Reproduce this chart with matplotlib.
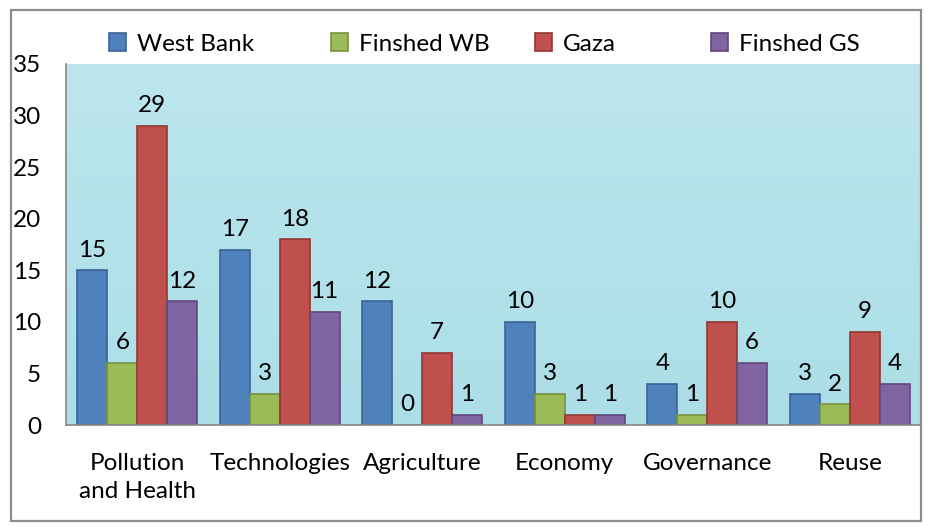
import matplotlib
matplotlib.use("Agg")
import matplotlib.pyplot as plt
import numpy as np
from matplotlib.patches import Rectangle, Patch
from matplotlib.colors import LinearSegmentedColormap

plt.rcParams['font.family'] = ['Lato', 'DejaVu Sans']

categories = ["Pollution\nand Health", "Technologies", "Agriculture", "Economy", "Governance", "Reuse"]
series_names = ["West Bank", "Finshed WB", "Gaza", "Finshed GS"]
west_bank = [15, 17, 12, 10, 4, 3]
finished_wb = [6, 3, 0, 3, 1, 2]
gaza = [29, 18, 7, 1, 10, 9]
finished_gs = [12, 11, 1, 1, 6, 4]
y_ticks = [0, 5, 10, 15, 20, 25, 30, 35]

colors = ["#4F81BD", "#9BBB59", "#C0504D", "#8064A2"]
edges = ["#3A6496", "#76923C", "#943634", "#5F497A"]

FS = 17.5
W, H = 932, 527
fig = plt.figure(figsize=(W / 100, H / 100), dpi=100)
fig.patch.set_facecolor("white")

# outer border
fig.patches.append(Rectangle((11 / W, 1 - 521 / H), (921 - 11) / W, (521 - 10) / H,
                             transform=fig.transFigure, fill=False,
                             edgecolor="#8C8C8C", linewidth=1.6))

ax = fig.add_axes([66 / W, 1 - 425 / H, (921 - 66) / W, (425 - 64) / H])
# water-like background
grad = np.linspace(0, 1, 256).reshape(-1, 1)
cmap = LinearSegmentedColormap.from_list("water", ["#ACDEE7", "#BCE6ED"])
ax.imshow(grad, aspect="auto", cmap=cmap, extent=[-0.5, 5.5, 0, 35], zorder=0, origin="lower")

x = np.arange(len(categories))
bw = 0.21
data = [west_bank, finished_wb, gaza, finished_gs]
for i, (vals, name) in enumerate(zip(data, series_names)):
    offs = (i - 1.5) * bw
    bars = ax.bar(x + offs, vals, bw, color=colors[i], edgecolor=edges[i],
                  linewidth=1.2, label=name, zorder=2)
    ax.bar_label(bars, labels=[str(v) for v in vals], padding=7, fontsize=FS, color="black")

ax.set_xlim(-0.5, 5.5)
ax.set_ylim(0, 35)
ax.set_yticks(y_ticks)
ax.set_yticklabels([str(t) for t in y_ticks], fontsize=FS)
ax.set_xticks(x)
ax.set_xticklabels(categories, fontsize=FS, linespacing=1.4)
ax.tick_params(axis="both", length=0)
ax.tick_params(axis="y", pad=18)
ax.tick_params(axis="x", pad=20)
for s in ["top", "right"]:
    ax.spines[s].set_visible(False)
for s in ["left", "bottom"]:
    ax.spines[s].set_color("#868686")
    ax.spines[s].set_linewidth(1.2)

legend_x = [109, 331, 535, 711]
for i, name in enumerate(series_names):
    h = Patch(facecolor=colors[i], edgecolor=edges[i], linewidth=1.2)
    fig.legend(handles=[h], labels=[name], loc="center left",
               bbox_to_anchor=(legend_x[i] / W, 1 - 44 / H), frameon=False,
               fontsize=FS, borderpad=0, borderaxespad=0, handlelength=0.7,
               handleheight=0.7, handletextpad=0.45)

fig.savefig("out.png", dpi=100)
